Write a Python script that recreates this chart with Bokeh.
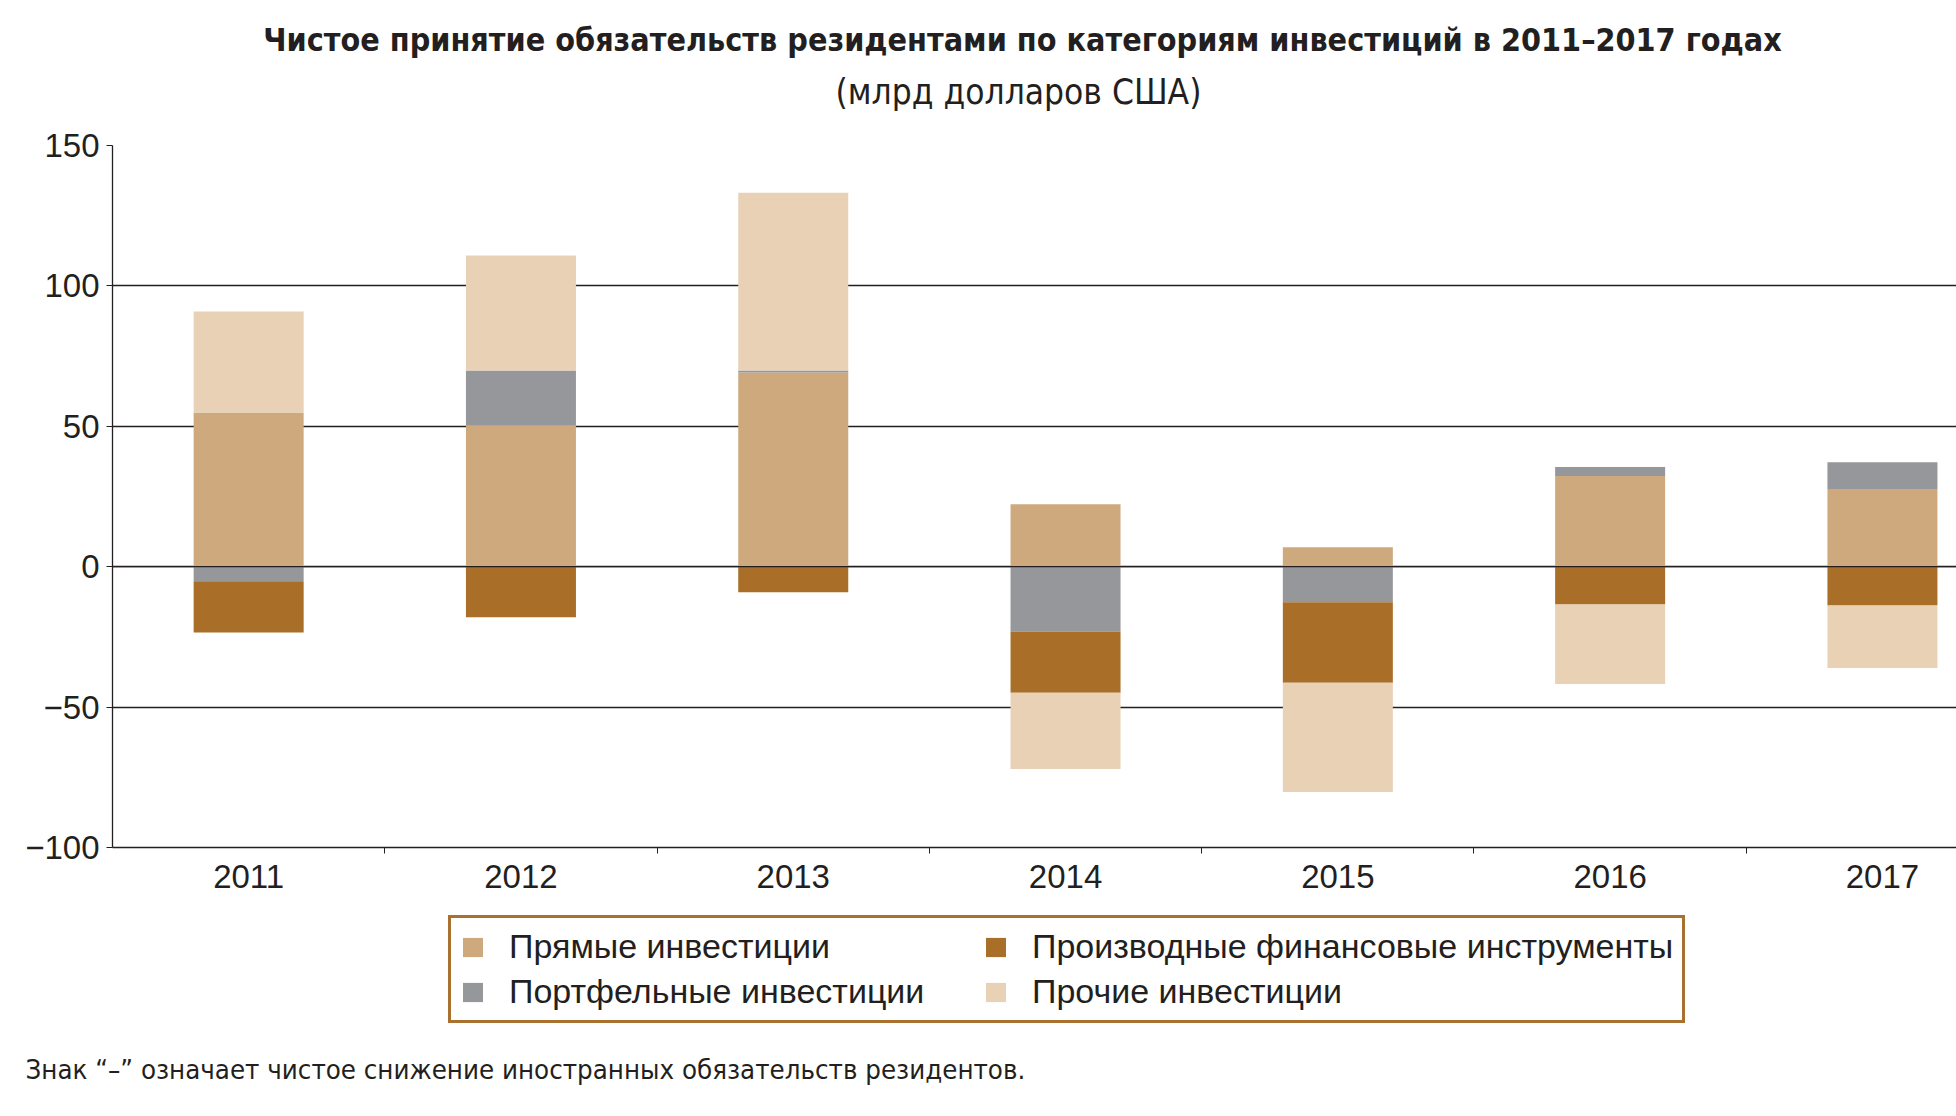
from bokeh.plotting import figure
from bokeh.layouts import column
from bokeh.models import (ColumnDataSource, Range1d, FixedTicker, Span, Title, Label,
                          Legend, LegendItem)
from bokeh.embed import file_html
from bokeh.resources import INLINE

# ---- data (млрд долларов США) ----
years = ["2011", "2012", "2013", "2014", "2015", "2016", "2017"]
direct = [54.9, 50.3, 69.2, 22.2, 6.9, 32.3, 27.7]
portfolio = [-5.2, 19.6, 0.7, -23.1, -12.7, 3.2, 9.5]
derivatives = [-18.2, -18.0, -9.1, -21.8, -28.6, -13.5, -13.8]
other = [36.0, 40.9, 63.3, -27.1, -38.9, -28.3, -22.3]

series_names = ["Прямые инвестиции", "Портфельные инвестиции",
                "Производные финансовые инструменты", "Прочие инвестиции"]
series_values = [direct, portfolio, derivatives, other]
colors = ["#cfa97e", "#96979b", "#a96e27", "#e8d1b5"]

y_ticks = [-100, -50, 0, 50, 100, 150]

title_text = "Чистое принятие обязательств резидентами по категориям инвестиций в 2011–2017 годах"
subtitle_text = "(млрд долларов США)"
note_text = "Знак “–” означает чистое снижение иностранных обязательств резидентов."

INK = "#231f20"
BODY_FONT = "Liberation Sans"
COND_FONT = "DejaVu Sans Condensed, Liberation Sans Narrow, Roboto"

W = 1956
H_HEAD, H_MAIN, H_FOOT = 120, 785, 207
FRAME_LEFT = 112


def bare(fig):
    fig.outline_line_color = None
    fig.grid.visible = False
    fig.background_fill_color = "white"
    fig.border_fill_color = "white"


# ---------------- header (title + units) ----------------
h = figure(width=W, height=H_HEAD, output_backend="svg", toolbar_location=None, title=None,
           x_range=Range1d(FRAME_LEFT, W), y_range=Range1d(H_HEAD, 0),
           x_axis_type=None, y_axis_type=None,
           min_border_left=0, min_border_right=0, min_border_top=0, min_border_bottom=0)
bare(h)
h.add_layout(Label(x=1022, y=39, text=title_text, text_font=COND_FONT,
                   text_font_style="bold", text_font_size="32px", text_color=INK,
                   text_align="center", text_baseline="alphabetic"))
h.add_layout(Label(x=1018, y=91, text=subtitle_text, text_font=COND_FONT,
                   text_font_size="35px", text_color=INK,
                   text_align="center", text_baseline="alphabetic"))

# ---------------- main chart ----------------
p = figure(width=W, height=H_MAIN, output_backend="svg", toolbar_location=None, title=None,
           x_range=Range1d(0, 6.772), y_range=Range1d(-100, 150),
           min_border_left=FRAME_LEFT, min_border_right=0, min_border_top=25,
           min_border_bottom=58)
p.outline_line_color = None
p.background_fill_color = "white"
p.border_fill_color = "white"

xs = [i + 0.5 for i in range(len(years))]
pos_acc = [0.0] * len(years)
neg_acc = [0.0] * len(years)
for name, vals, col in zip(series_names, series_values, colors):
    bottoms, tops = [], []
    for i, v in enumerate(vals):
        if v >= 0:
            bottoms.append(pos_acc[i]); tops.append(pos_acc[i] + v); pos_acc[i] += v
        else:
            bottoms.append(neg_acc[i]); tops.append(neg_acc[i] + v); neg_acc[i] += v
    src = ColumnDataSource(dict(x=xs, bottom=bottoms, top=tops))
    p.vbar(x="x", width=0.404, bottom="bottom", top="top", source=src,
           fill_color=col, line_color=None)

p.add_layout(Span(location=0, dimension="width", line_color=INK, line_width=1.3))

p.xaxis.ticker = FixedTicker(ticks=xs, minor_ticks=[1, 2, 3, 4, 5, 6])
p.xaxis.major_label_overrides = {x: y for x, y in zip(xs, years)}
p.xaxis.major_tick_line_color = None
p.xaxis.major_tick_out = 0
p.xaxis.major_tick_in = 0
p.xaxis.minor_tick_out = 6
p.xaxis.minor_tick_in = 0
p.xaxis.minor_tick_line_color = INK
p.xaxis.major_label_standoff = 11
p.xaxis.axis_line_color = INK
p.xaxis.axis_line_width = 1.3

p.yaxis.ticker = FixedTicker(ticks=y_ticks)
p.yaxis.major_label_overrides = {-100: "−100", -50: "−50"}
p.yaxis.minor_tick_line_color = None
p.yaxis.major_tick_out = 6
p.yaxis.major_tick_in = 0
p.yaxis.major_tick_line_color = INK
p.yaxis.major_label_standoff = 7
p.yaxis.axis_line_color = INK
p.yaxis.axis_line_width = 1.3

for ax in (p.xaxis, p.yaxis):
    ax.major_label_text_font = BODY_FONT
    ax.major_label_text_font_size = "33px"
    ax.major_label_text_color = INK

p.xgrid.grid_line_color = None
p.ygrid.ticker = FixedTicker(ticks=y_ticks)
p.ygrid.grid_line_color = INK
p.ygrid.grid_line_width = 1.3

# ---------------- legend + note ----------------
f = figure(width=W, height=H_FOOT, output_backend="svg", toolbar_location=None, title=None,
           x_range=Range1d(FRAME_LEFT, W), y_range=Range1d(0, 1),
           x_axis_type=None, y_axis_type=None,
           min_border_left=0, min_border_right=0, min_border_top=0, min_border_bottom=66)
bare(f)

nan = float("nan")
items = []
for name, col in zip(series_names, colors):
    r = f.vbar(x="x", top="top", width=1, source=ColumnDataSource(dict(x=[nan], top=[nan])),
               fill_color=col, line_color=None)
    items.append(LegendItem(label=name, renderers=[r]))

legend = Legend(items=items, location=(336, 23), nrows=2, ncols=2, orientation="vertical")
legend.border_line_color = "#a8712f"
legend.border_line_width = 3
legend.border_line_alpha = 1
legend.background_fill_color = "white"
legend.background_fill_alpha = 1
legend.padding = 9
legend.spacing = 6
legend.margin = 0
legend.glyph_width = 25
legend.glyph_height = 24
legend.label_standoff = 24
legend.label_width = 468
legend.label_text_font = BODY_FONT
legend.label_text_font_size = "34px"
legend.label_text_color = INK
f.add_layout(legend, "center")

f.add_layout(Title(text=note_text, align="left", offset=-87, standoff=10,
                   text_font=COND_FONT, text_font_style="normal", text_font_size="27.4px",
                   text_color=INK), "below")

open("out.html", "w").write(file_html(column(h, p, f, spacing=0), INLINE))
